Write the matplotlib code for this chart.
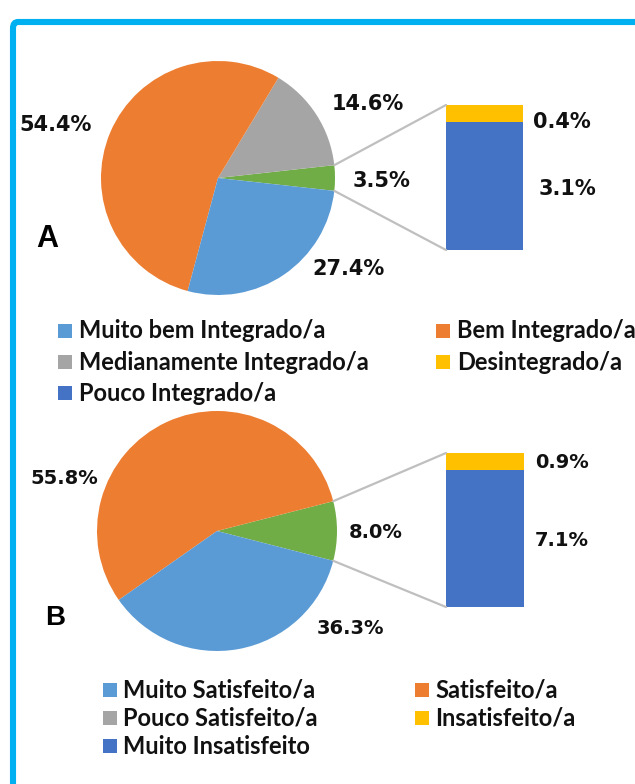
import numpy as np
import matplotlib
matplotlib.use("Agg")
import matplotlib.pyplot as plt
from matplotlib.patches import ConnectionPatch, FancyBboxPatch, Rectangle

# ---------------- data ----------------
a_labels = ["Muito bem Integrado/a", "Bem Integrado/a", "Medianamente Integrado/a",
            "Desintegrado/a", "Pouco Integrado/a"]
a_pie_values = [27.4, 54.4, 14.6]          # Muito bem, Bem, Medianamente
a_bar_values = [3.1, 0.4]                  # Pouco, Desintegrado

b_labels = ["Muito Satisfeito/a", "Satisfeito/a", "Pouco Satisfeito/a",
            "Insatisfeito/a", "Muito Insatisfeito"]
b_pie_values = [36.3, 55.8, 0.0]           # Muito Satisfeito, Satisfeito, Pouco Satisfeito
b_bar_values = [7.1, 0.9]                  # Muito Insatisfeito, Insatisfeito
b_other_label = 8.0

C_LBLUE = "#5B9BD5"
C_ORANGE = "#ED7D31"
C_GRAY = "#A5A5A5"
C_YELLOW = "#FFC000"
C_BLUE = "#4472C4"
C_GREEN = "#70AD47"
legend_colors = [C_LBLUE, C_ORANGE, C_GRAY, C_YELLOW, C_BLUE]

W, H = 635, 784
fig = plt.figure(figsize=(W / 100, H / 100), dpi=100)


def box(x0, y0, x1, y1):
    return [x0 / W, 1 - y1 / H, (x1 - x0) / W, (y1 - y0) / H]


def fx(x):
    return x / W


def fy(y):
    return 1 - y / H


# border
border = FancyBboxPatch((fx(13), fy(800)), fx(660) - fx(13), fy(22) - fy(800),
                        boxstyle="round,pad=0,rounding_size=0.008",
                        transform=fig.transFigure, fill=False,
                        edgecolor="#00B0F0", linewidth=4.4)
fig.patches.append(border)

PCT_FONT = dict(family="DejaVu Sans", fontweight="bold", color="#111111")


def pie_of_bar(pie_box, bar_box, pie_vals, bar_vals, other_total=None):
    other = sum(bar_vals) if other_total is None else other_total
    muito, bem, med = pie_vals
    vals = [other, med, bem, muito]
    cols = [C_GREEN, C_GRAY, C_ORANGE, C_LBLUE]
    total = sum(vals)
    half = other / total * 180.0
    axp = fig.add_axes(box(*pie_box))
    axp.pie(vals, colors=cols, startangle=-half, counterclock=True,
            wedgeprops=dict(linewidth=0))
    axp.set_xlim(-1, 1)
    axp.set_ylim(-1, 1)
    axp.set_aspect("equal")
    axp.axis("off")

    axb = fig.add_axes(box(*bar_box))
    axb.bar([0], [bar_vals[0]], width=1.0, color=C_BLUE, linewidth=0)
    axb.bar([0], [bar_vals[1]], bottom=[bar_vals[0]], width=1.0, color=C_YELLOW, linewidth=0)
    btot = sum(bar_vals)
    axb.set_xlim(-0.5, 0.5)
    axb.set_ylim(0, btot)
    axb.axis("off")

    th = np.deg2rad(half)
    for sgn, yb in [(1, btot), (-1, 0)]:
        con = ConnectionPatch(xyA=(np.cos(th), sgn * np.sin(th)), coordsA=axp.transData,
                              xyB=(-0.5, yb), coordsB=axb.transData,
                              color="#BFBFBF", linewidth=1.6)
        fig.add_artist(con)
    return axp, axb


pie_of_bar((101, 61, 335, 295), (446, 105, 523, 250), a_pie_values, a_bar_values)
pie_of_bar((97, 411, 337, 651), (446, 453, 524, 607), b_pie_values, b_bar_values, b_other_label)

# percentage labels
def lab(x, y, v, size=15):
    fig.text(fx(x), fy(y), f"{v:.1f}%", ha="center", va="center", fontsize=size, **PCT_FONT)

lab(56, 125, a_pie_values[1])
lab(368, 104, a_pie_values[2])
lab(381, 181, sum(a_bar_values))
lab(348, 269, a_pie_values[0])
lab(562, 122, a_bar_values[1])
lab(567, 189, a_bar_values[0])

lab(64, 479, b_pie_values[1], 14)
lab(376, 533, b_other_label, 14)
lab(350, 628, b_pie_values[0], 14)
lab(562, 463, b_bar_values[1], 14)
lab(562, 541, b_bar_values[0], 14)

fig.text(fx(47), fy(239), "A", ha="center", va="center", fontsize=22,
         family="Liberation Sans", fontweight="bold")
fig.text(fx(55), fy(618), "B", ha="center", va="center", fontsize=20,
         family="Liberation Sans", fontweight="bold")

# legends (row-major, 2 columns)
LEG_FONT = dict(family="Lato", fontweight="bold", fontsize=17, color="#111111")


def legend(labels, col_x, row_y, msize=14, gap=7):
    for i, (lbl, c) in enumerate(zip(labels, legend_colors)):
        r, cidx = divmod(i, 2)
        mx = col_x[cidx]
        y = row_y[r]
        fig.patches.append(Rectangle((fx(mx), fy(y + msize / 2)), msize / W, msize / H,
                                     transform=fig.transFigure, color=c, linewidth=0))
        fig.text(fx(mx + msize + gap), fy(y), lbl, ha="left", va="center", **LEG_FONT)


legend(a_labels, [58, 436], [331, 362, 393])
legend(b_labels, [103, 415], [690, 718, 746], gap=6)

fig.savefig("out.png", dpi=100)
